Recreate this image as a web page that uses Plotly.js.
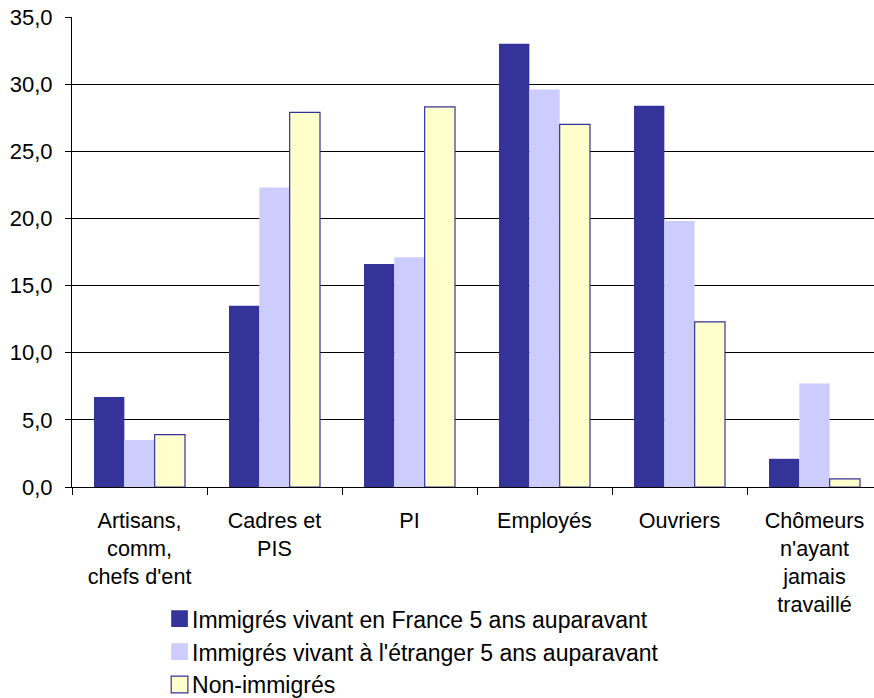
<!DOCTYPE html>
<html>
<head>
<meta charset="utf-8">
<script src="https://cdn.plot.ly/plotly-3.0.1.min.js"></script>
<style>html,body{margin:0;padding:0;background:#fff;}#chart{width:874px;height:698px;}</style>
</head>
<body>
<div id="chart"></div>
<script>
var categories = ["Artisans,<br>comm,<br>chefs d'ent", "Cadres et<br>PIS", "PI", "Employés", "Ouvriers", "Chômeurs<br>n'ayant<br>jamais<br>travaillé"];
var seriesNames = ["Immigrés vivant en France 5 ans auparavant", "Immigrés vivant à l'étranger 5 ans auparavant", "Non-immigrés"];
var immigresFrance = [6.7, 13.5, 16.6, 33.0, 28.4, 2.1];
var immigresEtranger = [3.5, 22.3, 17.1, 29.6, 19.8, 7.7];
var nonImmigres = [3.9, 27.9, 28.3, 27.0, 12.3, 0.6];
var yTicks = [0, 5, 10, 15, 20, 25, 30, 35];

var fam = "Liberation Sans, Arial, sans-serif";
var axisFont = {family: fam, size: 22, color: "#000"};
var catFont = {family: fam, size: 21.6, color: "#000"};
var legendFont = {family: fam, size: 23, color: "#000"};

var traces = [
  {type: "bar", name: seriesNames[0], x: categories, y: immigresFrance,
   marker: {color: "#333399", line: {width: 0}}},
  {type: "bar", name: seriesNames[1], x: categories, y: immigresEtranger,
   marker: {color: "#ccccff", line: {width: 0}}},
  {type: "bar", name: seriesNames[2], x: categories, y: nonImmigres,
   marker: {color: "#ffffcc", line: {width: 1.2, color: "#333399"}}}
];

var layout = {
  width: 874, height: 698,
  margin: {l: 72, r: 0, t: 16.5, b: 211, autoexpand: false},
  paper_bgcolor: "#fff", plot_bgcolor: "#fff",
  font: axisFont,
  separators: ",.",
  barmode: "group",
  bargap: 0.326, bargroupgap: 0,
  showlegend: true,
  legend: {orientation: "v", x: 0.0998, xanchor: "left", y: -0.2345, yanchor: "top",
           font: legendFont, bgcolor: "rgba(0,0,0,0)", traceorder: "normal", tracegroupgap: 0},
  xaxis: {type: "category", range: [-0.5, -0.5 + 802/135], tickson: "boundaries",
          ticks: "outside", ticklen: 7, tickcolor: "#000", tickwidth: 1,
          ticklabelstandoff: 14,
          showline: true, linecolor: "#000", linewidth: 1, showgrid: false,
          tickfont: catFont, fixedrange: true},
  yaxis: {range: [0, 35], tickvals: yTicks, tickformat: ".1f", ticks: "outside", ticklen: 6,
          ticklabelstandoff: 8,
          tickcolor: "#000", showline: true, linecolor: "#000", linewidth: 1,
          showgrid: true, gridcolor: "#000", gridwidth: 1, zeroline: false,
          tickfont: axisFont, fixedrange: true}
};

Plotly.newPlot("chart", traces, layout, {displayModeBar: false, staticPlot: true}).then(function (gd) {
  var pts = gd.querySelectorAll(".legend .legendpoints path");
  pts.forEach(function (p) {
    var t = p.getAttribute("transform") || "";
    p.setAttribute("transform", t + " translate(7.5,0) scale(1.39)");
    p.style.strokeWidth = (parseFloat(p.style.strokeWidth) || 0) / 1.39 + "px";
  });
});
</script>
</body>
</html>
